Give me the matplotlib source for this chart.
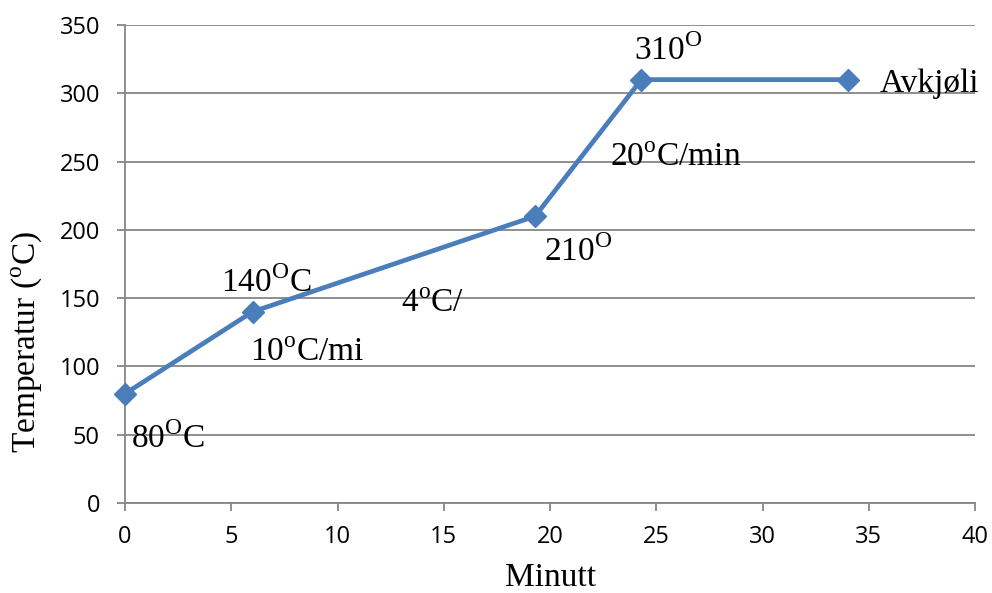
import numpy as np
import matplotlib.pyplot as plt

plt.rcParams['mathtext.fontset'] = 'custom'
plt.rcParams['mathtext.rm'] = 'Liberation Serif'

# Data
minutt = np.array([0, 6, 19.3, 24.3, 34])
temperatur = np.array([80, 140, 210, 310, 310])

x_ticks = [0, 5, 10, 15, 20, 25, 30, 35, 40]
y_ticks = [0, 50, 100, 150, 200, 250, 300, 350]

# annotation texts and anchor (left, center) in data coords
labels = [r'80$^{\mathrm{O}}$C', r'140$^{\mathrm{O}}$C', r'10$^{\mathrm{o}}$C/mi',
          r'4$^{\mathrm{o}}$C/', r'210$^{\mathrm{O}}$', r'20$^{\mathrm{o}}$C/min',
          r'310$^{\mathrm{O}}$', 'Avkjøli']
label_x = [0.3, 4.5, 5.9, 13.0, 19.7, 22.8, 23.95, 35.5]
label_y = [47, 161, 110, 146, 184, 253, 331, 307]

serif = 'Liberation Serif'
grey = '#868686'

fig = plt.figure(figsize=(9.92, 5.93), dpi=100)
ax = fig.add_axes([125/992, 1 - 503/593, 850/992, 478/593])

ax.plot(minutt, temperatur, color='#4A7EBB', linewidth=3.4, marker='D',
        markersize=11, zorder=3, clip_on=False)

for t, x, y in zip(labels, label_x, label_y):
    ax.text(x, y, t, fontsize=24, family=serif, ha='left', va='center', zorder=4)

ax.set_xlim(0, 40)
ax.set_ylim(0, 350)
ax.set_xticks(x_ticks)
ax.set_yticks(y_ticks)
ax.yaxis.grid(True, color=grey, linewidth=1.3)
ax.set_axisbelow(True)

for s in ['top', 'right']:
    ax.spines[s].set_visible(False)
for s in ['left', 'bottom']:
    ax.spines[s].set_color(grey)
    ax.spines[s].set_linewidth(1.3)

ax.tick_params(axis='both', colors=grey, length=6, width=1.3, labelcolor='black',
               labelsize=17)
ax.tick_params(axis='x', pad=10)
ax.tick_params(axis='y', pad=12)
for lab in ax.get_xticklabels() + ax.get_yticklabels():
    lab.set_family('Open Sans')

fig.text(551/992, 1 - 578/593, 'Minutt', fontsize=24, family=serif,
         ha='center', va='center')
fig.text(27/992, 1 - 342/593, r'Temperatur ($^{\mathrm{o}}$C)', fontsize=24,
         family=serif, rotation=90, ha='center', va='center')

fig.savefig('out.png', dpi=100)
